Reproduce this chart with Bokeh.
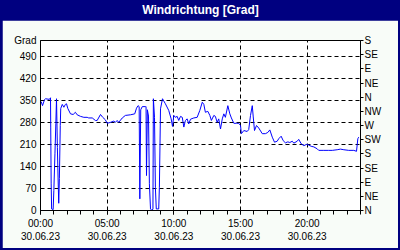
from bokeh.plotting import figure
from bokeh.layouts import column
from bokeh.models import FixedTicker, LinearAxis, Range1d, ColumnDataSource
from bokeh.core.properties import value
from bokeh.embed import file_html
from bokeh.resources import INLINE

title_text = "Windrichtung [Grad]"
y_label = "Grad"
date_label = "30.06.23"
hour_ticks = [0, 5, 10, 15, 20]
deg_ticks = [0, 70, 140, 210, 280, 350, 420, 490]
compass_deg = [0, 45, 90, 135, 180, 225, 270, 315, 360, 405, 450, 495, 540]
compass_lbl = ["N", "NE", "E", "SE", "S", "SW", "W", "NW", "N", "NE", "E", "SE", "S"]

minutes = [3, 9, 18, 22, 40, 45, 46, 48, 50, 57, 60, 65, 69, 72, 76, 79, 82, 85, 89, 91,
           98, 105, 112, 117, 123, 135, 147, 157, 165, 180, 195, 210, 217, 233, 247, 255,
           270, 280, 292, 300, 315, 330, 337, 345, 352, 368, 382, 405, 424, 432, 439, 444,
           447, 451, 458, 472, 475, 477, 481, 486, 490, 495, 502, 506, 508, 513, 517, 521,
           532, 535, 540, 549, 553, 562, 577, 588, 594, 600, 607, 615, 622, 630, 638, 645,
           652, 660, 667, 675, 690, 705, 717, 728, 735, 742, 753, 762, 769, 780, 787, 795,
           802, 810, 818, 825, 832, 843, 852, 859, 870, 882, 892, 900, 904, 915, 930, 937,
           945, 953, 957, 963, 972, 982, 998, 1012, 1023, 1032, 1043, 1053, 1065, 1072,
           1083, 1092, 1102, 1113, 1122, 1133, 1140, 1155, 1162, 1173, 1185, 1197, 1207,
           1218, 1230, 1245, 1252, 1275, 1297, 1313, 1335, 1350, 1365, 1387, 1410, 1422,
           1428, 1432]
direction = [346, 333, 352, 355, 353, 358, 265, 87, 5, 3, 63, 180, 276, 355, 200, 106, 23, 102, 270, 324,
             337, 328, 337, 339, 324, 307, 305, 312, 304, 299, 296, 296, 294, 294, 286, 286,
             305, 296, 288, 277, 280, 284, 280, 286, 280, 294, 302, 304, 307, 325, 333, 330,
             37, 320, 330, 330, 330, 111, 320, 300, 85, 5, 0, 5, 355, 296, 74, 5,
             5, 74, 323, 355, 350, 339, 318, 291, 267, 302, 296, 299, 286, 299, 296, 265,
             286, 291, 275, 290, 294, 296, 318, 344, 337, 312, 315, 302, 286, 302, 299, 280,
             291, 259, 291, 307, 296, 333, 307, 294, 277, 277, 277, 270, 244, 254, 251, 257,
             302, 333, 300, 254, 270, 262, 244, 244, 248, 256, 233, 217, 220, 228,
             236, 222, 215, 218, 216, 220, 214, 220, 226, 212, 206, 210, 208,
             204, 202, 196, 191, 191, 191, 191, 193, 195, 193, 191, 191, 188,
             228, 233]

FONT = "Liberation Sans"
NAVY = "#000080"
BODY = "#F8FCF8"

# title bar
tf = figure(width=400, height=20, x_range=Range1d(0, 1), y_range=Range1d(0, 1),
            toolbar_location=None, output_backend="svg", min_border=0)
tf.axis.visible = False
tf.grid.visible = False
tf.outline_line_color = None
tf.background_fill_color = NAVY
tf.border_fill_color = NAVY
tf.text(x=[0.5], y=[0.55], text=[title_text], text_align="center", text_baseline="middle",
        text_color="white", text_font=value(FONT), text_font_style="bold",
        text_font_size="12px")

# main chart
src = ColumnDataSource(dict(t=minutes, v=direction))
p = figure(width=396, height=228, x_range=Range1d(0, 1440), y_range=Range1d(0, 540),
           toolbar_location=None, output_backend="svg",
           min_border_left=38, min_border_right=38, min_border_top=20, min_border_bottom=38,
           margin=(0, 2, 2, 2))
p.background_fill_color = "white"
p.border_fill_color = BODY
p.outline_line_color = "black"

p.line(x="t", y="v", source=src, line_color="#0000FF", line_width=1)

ax = p.xaxis[0]
ax.ticker = FixedTicker(ticks=[h * 60 for h in hour_ticks],
                        minor_ticks=list(range(0, 1441, 60)))
ax.major_label_overrides = {h * 60: f"{h:02d}:00\n{date_label}" for h in hour_ticks}
ax.major_tick_in = 0
ax.major_tick_out = 4
ax.minor_tick_in = 0
ax.minor_tick_out = 4
ax.major_label_standoff = 3

ay = p.yaxis[0]
ay.ticker = FixedTicker(ticks=deg_ticks + [540])
ay.major_label_overrides = {540: y_label}
ay.major_tick_in = 0
ay.major_tick_out = 0
ay.minor_tick_in = 0
ay.minor_tick_out = 0
ay.major_label_standoff = 4

ar = LinearAxis(ticker=FixedTicker(ticks=compass_deg),
                major_label_overrides={d: l for d, l in zip(compass_deg, compass_lbl)})
ar.major_tick_in = 0
ar.major_tick_out = 3
ar.minor_tick_in = 0
ar.minor_tick_out = 0
ar.major_label_standoff = 1
p.add_layout(ar, "right")

for a in [ax, ay, ar]:
    a.axis_line_color = "black"
    a.major_tick_line_color = "black"
    a.minor_tick_line_color = "black"
    a.major_label_text_font = FONT
    a.major_label_text_font_size = "10px"
    a.major_label_text_color = "black"

for g in p.grid:
    g.grid_line_color = "black"
    g.grid_line_dash = "4 3"
    g.grid_line_width = 1

layout = column(tf, p, spacing=0, styles={"background-color": NAVY})
open("out.html", "w").write(file_html(layout, INLINE))
